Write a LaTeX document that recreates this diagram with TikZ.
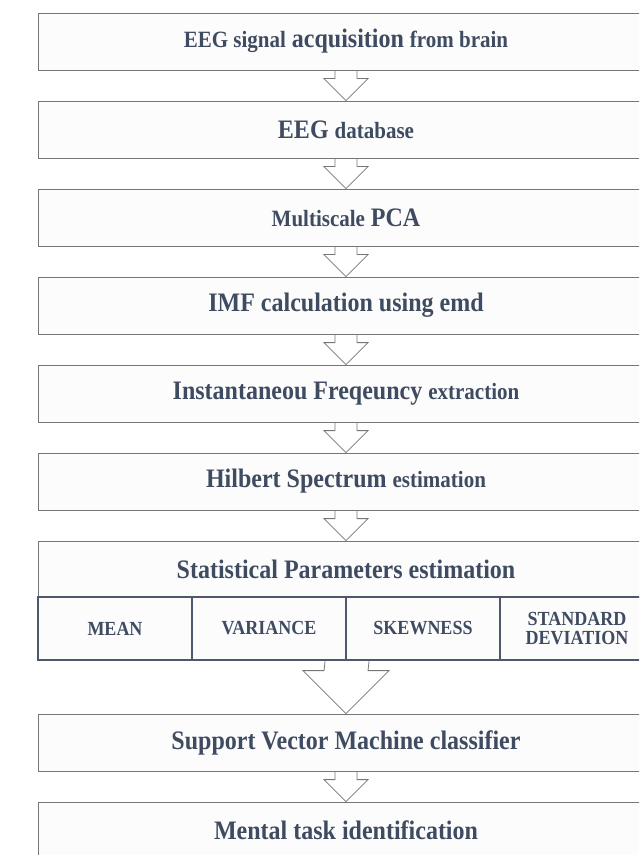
\documentclass[tikz,border=0pt]{standalone}
\usepackage{fontspec}
\setmainfont{Liberation Serif}[FakeStretch=0.9]
\definecolor{txtblue}{RGB}{62,75,96}
\definecolor{boxgray}{RGB}{118,118,118}
\definecolor{boxfill}{RGB}{252,252,253}
\definecolor{cellblue}{RGB}{76,88,108}
\newcommand\sm[1]{{\fontsize{17.5}{20}\selectfont #1}}
\tikzset{
  stage/.style={draw=boxgray, fill=boxfill, line width=0.6pt, minimum width=462pt,
    minimum height=42.75pt, inner sep=0pt, text=txtblue, font=\bfseries\fontsize{20}{22}\selectfont},
  param/.style={draw=cellblue, fill=boxfill, line width=1.6pt, minimum width=115.5pt,
    minimum height=47.25pt, inner sep=0pt, align=center, text=txtblue,
    font=\bfseries\fontsize{15}{14.5}\selectfont},
  flow/.style={draw=boxgray, fill=white, line width=0.6pt, line join=miter}
}
\begin{document}
\begin{tikzpicture}[x=0.75pt, y=-0.75pt]
  \clip (0,0) rectangle (639,855);
  \node[stage] (b1) at (346,41.5) {\sm{EEG signal} acquisition \sm{from brain}};
  \node[stage] (b2) at (346,129.5) {EEG \sm{database}};
  \node[stage] (b3) at (346,217.5) {\sm{Multiscale} PCA};
  \node[stage] (b4) at (346,305.5) {IMF calculation using emd};
  \node[stage] (b5) at (346,393.5) {Instantaneou Freqeuncy \sm{extraction}};
  \node[stage] (b6) at (346,481.5) {Hilbert Spectrum \sm{estimation}};
  \node[stage, minimum height=42pt] (b7) at (346,569) {Statistical Parameters estimation};
  \node[param] (mean) at (115,628.5) {MEAN};
  \node[param] (var) at (269,628.5) {VARIANCE};
  \node[param] (skew) at (423,628.5) {SKEWNESS};
  \node[param] (std) at (577,628.5) {STANDARD\\DEVIATION};
  \node[stage] (b8) at (346,742.5) {Support Vector Machine classifier};
  \node[stage] (b9) at (346,830.5) {Mental task identification};
  \begin{scope}[flow]
    \draw ([shift={(-11,0)}]b1.south) -- ([shift={(-11,-22)}]b2.north) -- ++(-11,0) -- (b2.north) -- ++(22,-22) -- ++(-11,0) -- ([shift={(11,0)}]b1.south);
    \draw ([shift={(-11,0)}]b2.south) -- ([shift={(-11,-22)}]b3.north) -- ++(-11,0) -- (b3.north) -- ++(22,-22) -- ++(-11,0) -- ([shift={(11,0)}]b2.south);
    \draw ([shift={(-11,0)}]b3.south) -- ([shift={(-11,-22)}]b4.north) -- ++(-11,0) -- (b4.north) -- ++(22,-22) -- ++(-11,0) -- ([shift={(11,0)}]b3.south);
    \draw ([shift={(-11,0)}]b4.south) -- ([shift={(-11,-22)}]b5.north) -- ++(-11,0) -- (b5.north) -- ++(22,-22) -- ++(-11,0) -- ([shift={(11,0)}]b4.south);
    \draw ([shift={(-11,0)}]b5.south) -- ([shift={(-11,-22)}]b6.north) -- ++(-11,0) -- (b6.north) -- ++(22,-22) -- ++(-11,0) -- ([shift={(11,0)}]b5.south);
    \draw ([shift={(-11,0)}]b6.south) -- ([shift={(-11,-22)}]b7.north) -- ++(-11,0) -- (b7.north) -- ++(22,-22) -- ++(-11,0) -- ([shift={(11,0)}]b6.south);
    \draw ([shift={(-22,0)}]var.south east) -- ([shift={(-22,-43)}]b8.north) -- ++(-21,0) -- (b8.north) -- ++(43,-43) -- ++(-21,0) -- ([shift={(22,0)}]var.south east);
    \draw ([shift={(-11,0)}]b8.south) -- ([shift={(-11,-22)}]b9.north) -- ++(-11,0) -- (b9.north) -- ++(22,-22) -- ++(-11,0) -- ([shift={(11,0)}]b8.south);
  \end{scope}
\end{tikzpicture}
\end{document}
